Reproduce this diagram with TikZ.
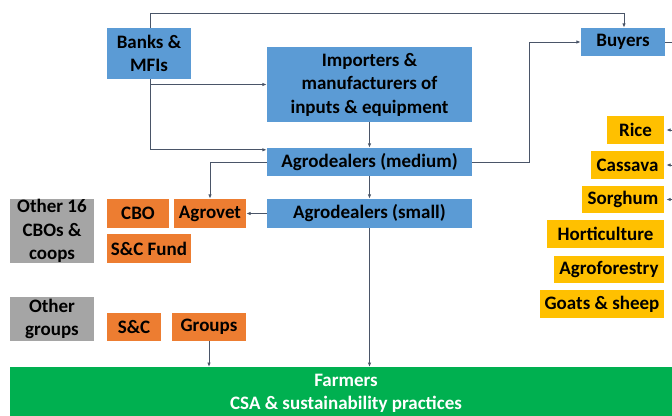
\documentclass[tikz,border=0pt]{standalone}
\usepackage{fontspec}
\setmainfont{Carlito}
\usetikzlibrary{arrows.meta}

\definecolor{actorblue}{HTML}{5B9BD5}
\definecolor{grouporange}{HTML}{ED7D31}
\definecolor{othergray}{HTML}{A5A5A5}
\definecolor{cropgold}{HTML}{FFC000}
\definecolor{farmgreen}{HTML}{00B050}
\definecolor{linkgray}{HTML}{4A5568}

\tikzset{
  box/.style={rectangle, inner sep=0pt, align=center, text=black,
    font=\fontsize{19}{23.5}\selectfont\bfseries},
  actor/.style={box, fill=actorblue},
  cbo/.style={box, fill=grouporange},
  other/.style={box, fill=othergray},
  crop/.style={box, fill=cropgold},
  link/.style={draw=linkgray, line width=1pt},
  flow/.style={link, -{Latex[length=4.5pt,width=3.5pt]}},
}

\begin{document}
\begin{tikzpicture}[x=1pt, y=-1pt]
  \useasboundingbox (0,0) rectangle (672,415);
  \clip (0,0) rectangle (672,415);

  % value-chain actors
  \node[actor, minimum width=84, minimum height=51] (banks) at (149,53.5) {Banks \&\\MFIs};
  \node[actor, minimum width=205, minimum height=75] (imp) at (369.5,84.5)
    {Importers \&\\manufacturers of\\inputs \& equipment};
  \node[actor, minimum width=84, minimum height=28] (buyers) at (623,42) {Buyers};
  \node[actor, minimum width=205, minimum height=28] (med) at (369.5,162) {Agrodealers (medium)};
  \node[actor, minimum width=205, minimum height=29] (small) at (369.5,213.5) {Agrodealers (small)};

  % community organisations
  \node[other, minimum width=84, minimum height=64] (other16) at (52,231) {Other 16\\CBOs \&\\coops};
  \node[cbo, minimum width=62, minimum height=29] (cbo) at (138,213.5) {CBO};
  \node[cbo, minimum width=72, minimum height=29] (agrovet) at (210,213.5) {Agrovet};
  \node[cbo, minimum width=84, minimum height=29] (scfund) at (149,248.5) {S\&C Fund};
  \node[other, minimum width=84, minimum height=44] (othergroups) at (52,319) {Other\\groups};
  \node[cbo, minimum width=54, minimum height=28] (sc) at (134,327) {S\&C};
  \node[cbo, minimum width=74, minimum height=28] (groups) at (209,327) {Groups};

  % value chains
  \node[crop, minimum width=57, minimum height=28] (rice) at (635.5,130) {Rice};
  \node[crop, minimum width=73, minimum height=28] (cassava) at (627.5,165) {Cassava};
  \node[crop, minimum width=82, minimum height=27] (sorghum) at (623,199.5) {Sorghum};
  \node[crop, minimum width=117, minimum height=28] (hort) at (605.5,234) {Horticulture};
  \node[crop, minimum width=110, minimum height=27] (agrof) at (609,269.5) {Agroforestry};
  \node[crop, minimum width=124, minimum height=28] (goats) at (602,304) {Goats \& sheep};

  % farmers
  \node[rectangle, fill=farmgreen, minimum width=672, minimum height=60, inner sep=0pt,
        anchor=north west] (farmers) at (10,367) {};
  \node[box, text=white, anchor=center, font=\fontsize{19}{22.5}\selectfont\bfseries]
    (farmtxt) at (346,393.5) {Farmers\\CSA \& sustainability practices};

  % edge coordinates
  \coordinate (topleft) at (150,13);
  \coordinate (topright) at (624,13);
  \coordinate (buyersout) at (672,42);
  \coordinate (riceout) at (672,130);
  \coordinate (cassavaout) at (672,165);
  \coordinate (sorghumout) at (672,199.5);

  % connectors
  \draw[flow] (banks.north -| topleft) -- (topleft) -- (topright) -- (topright |- buyers.north);
  \draw[flow] (banks.south -| topleft) |- ([yshift=-2pt]med.north west);
  \draw[flow] (topleft |- imp.west) -- (imp.west);
  \draw[flow] (imp.south) -- (med.north);
  \draw[flow] (med.south) -- (small.north);
  \draw[flow] (small.west) -- (agrovet.east);
  \draw[flow] (med.west) -| (agrovet.north);
  \draw[flow] (med.east) -- ++(57,0) |- (buyers.west);
  \draw[flow] (small.south) -- (small.south |- farmers.north);
  \draw[flow] (groups.south) -- (groups.south |- farmers.north);
  \draw[link] (buyers.east) -- (buyersout);
  \draw[flow, shorten >=2pt] (riceout) -- (rice.east);
  \draw[flow, shorten >=2pt] (cassavaout) -- (cassava.east);
  \draw[flow, shorten >=2pt] (sorghumout) -- (sorghum.east);
\end{tikzpicture}
\end{document}
